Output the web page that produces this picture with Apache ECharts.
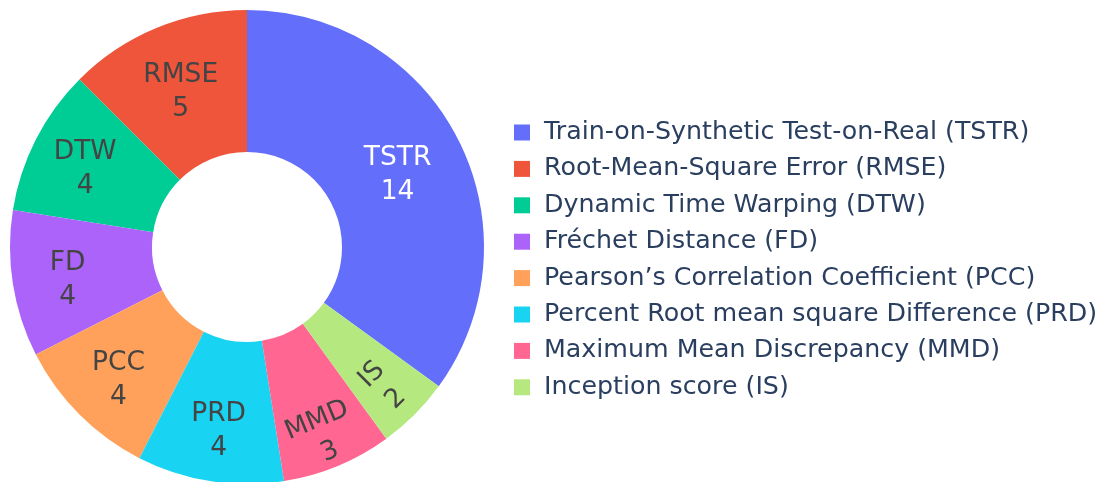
<!DOCTYPE html>
<html>
<head>
<meta charset="utf-8">
<script src="https://cdn.jsdelivr.net/npm/echarts@6/dist/echarts.min.js"></script>
<style>
  html, body { margin: 0; padding: 0; background: #fff; }
  #chart { width: 1102px; height: 482px; }
</style>
</head>
<body>
<div id="chart"></div>
<script>
// Metric names (legend) and short codes (slice labels), with counts
const names = [
  'Train-on-Synthetic Test-on-Real (TSTR)',
  'Root-Mean-Square Error (RMSE)',
  'Dynamic Time Warping (DTW)',
  'Fréchet Distance (FD)',
  'Pearson’s Correlation Coefficient (PCC)',
  'Percent Root mean square Difference (PRD)',
  'Maximum Mean Discrepancy (MMD)',
  'Inception score (IS)'
];
const codes = ['TSTR', 'RMSE', 'DTW', 'FD', 'PCC', 'PRD', 'MMD', 'IS'];
const counts = [14, 5, 4, 4, 4, 4, 3, 2];
const colors = ['#636efa', '#EF553B', '#00cc96', '#ab63fa', '#FFA15A', '#19d3f3', '#FF6692', '#B6E880'];

const FONT = '"DejaVu Sans", Verdana, sans-serif';
const CENTER = [247, 247];

// narrower slices carry their text further out along the ring, where there is more room
const labelPush = { TSTR: 1.0, RMSE: 1.025, DTW: 1.075, FD: 1.075, PCC: 1.075, PRD: 1.075, MMD: 1.18, IS: 1.145 };
// small downward nudge so the two-line block sits on the slice's optical centre
const labelDrop = { IS: 3 };
const LABEL_DROP = 5;

const data = names.map((n, i) => {
  const item = {
    name: n,
    value: counts[i],
    code: codes[i],
    itemStyle: { color: colors[i] },
    label: { color: i === 0 ? '#ffffff' : '#444444' }
  };
  // small slices get their text turned along the ring
  if (codes[i] === 'IS' || codes[i] === 'MMD') item.label.rotate = 'tangential';
  return item;
});

const chart = echarts.init(document.getElementById('chart'), null, { renderer: 'canvas' });
chart.setOption({
  animation: false,
  legend: {
    orient: 'vertical',
    left: 509,
    top: 115,
    itemWidth: 16,
    itemHeight: 16,
    itemGap: 11.4,
    icon: 'rect',
    selectedMode: false,
    textStyle: { fontFamily: FONT, fontSize: 25.3, color: '#2a3f5f', padding: [0, 0, 0, 9] },
    data: names
  },
  series: [{
    type: 'pie',
    center: CENTER,
    radius: [95, 237],
    startAngle: 324,
    clockwise: false,
    avoidLabelOverlap: false,
    emphasis: { disabled: true },
    label: {
      show: true,
      position: 'inside',
      fontFamily: FONT,
      fontSize: 26.5,
      lineHeight: 34,
      formatter: p => p.data.code + '\n' + p.value
    },
    labelLine: { show: false },
    labelLayout: function (params) {
      const code = codes[params.dataIndex];
      const k = labelPush[code] || 1;
      const drop = labelDrop[code] != null ? labelDrop[code] : LABEL_DROP;
      const r = params.labelRect;
      const mx = r.x + r.width / 2;
      const my = r.y + r.height / 2;
      return {
        x: CENTER[0] + (mx - CENTER[0]) * k,
        y: CENTER[1] + (my - CENTER[1]) * k + drop
      };
    },
    data: data
  }]
});
</script>
</body>
</html>
